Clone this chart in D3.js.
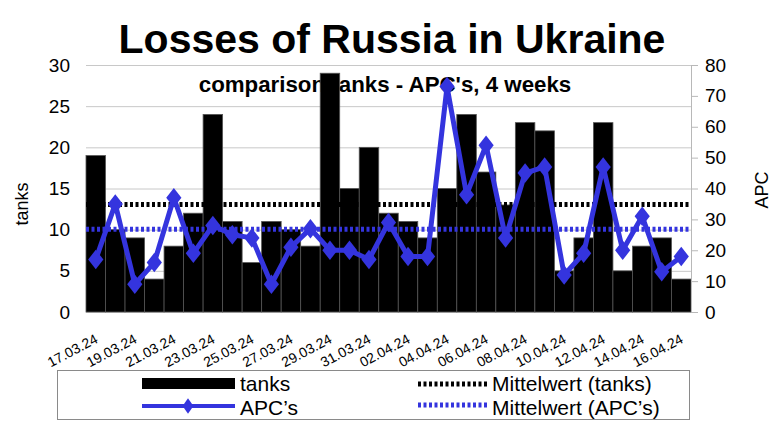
<!DOCTYPE html>
<html><head><meta charset="utf-8">
<script src="https://cdn.jsdelivr.net/npm/d3@7"></script>
<style>body{margin:0;background:#fff}svg{display:block;font-family:"Liberation Sans",Arial,sans-serif}</style>
</head><body><svg id="c" width="775" height="427"></svg>
<script>
const dates = ["17.03.24","18.03.24","19.03.24","20.03.24","21.03.24","22.03.24","23.03.24","24.03.24","25.03.24","26.03.24","27.03.24","28.03.24","29.03.24","30.03.24","31.03.24","01.04.24","02.04.24","03.04.24","04.04.24","05.04.24","06.04.24","07.04.24","08.04.24","09.04.24","10.04.24","11.04.24","12.04.24","13.04.24","14.04.24","15.04.24","16.04.24"];
const tanks = [19,10,9,4,8,12,24,11,6,11,10,8,29,15,20,12,11,9,15,24,17,13,23,22,5,9,23,5,8,9,4];
const apcs = [17,35,9,16,37,19,28,25,24,9,21,27,20,20,17,29,18,18,73,38,54,24,45,47,12,19,47,20,31,13,18];
const tankTicks = [0,5,10,15,20,25,30];
const apcTicks = [0,10,20,30,40,50,60,70,80];
const xLabels = dates.filter((d,i)=>i%2===0);
const legendLabels = ["tanks","APC\u2019s","Mittelwert (tanks)","Mittelwert (APC\u2019s)"];

const blue = "#3434de";
const svg = d3.select("#c");
const L=86, R=691, T=65, B=312;
const x = d3.scaleBand().domain(dates).range([L,R]).padding(0);
const yT = d3.scaleLinear().domain([0,30]).range([B,T]);
const yA = d3.scaleLinear().domain([0,80]).range([B,T]);
const meanT = d3.mean(tanks), meanA = d3.mean(apcs);

// title
svg.append("text").attr("x",392).attr("y",53).attr("text-anchor","middle")
  .attr("font-size",41).attr("font-weight","bold").text("Losses of Russia in Ukraine");

// gridlines
const gl = d3.axisLeft(yT).tickValues(tankTicks).tickSize(-(R-L)).tickFormat("");
svg.append("g").attr("transform",`translate(${L},0)`).call(gl)
  .call(g=>g.select(".domain").remove())
  .call(g=>g.selectAll("line").attr("stroke","#c8c8c8"));

// subtitle (behind bars)
svg.append("text").attr("x",385).attr("y",92).attr("text-anchor","middle")
  .attr("font-size",22.3).attr("font-weight","bold").text("comparison tanks - APC's, 4 weeks");

// bars
svg.append("g").selectAll("rect").data(tanks).join("rect")
  .attr("x",(d,i)=>x(dates[i])).attr("width",x.bandwidth())
  .attr("y",d=>yT(d)).attr("height",d=>B-yT(d))
  .attr("fill","#000").attr("stroke","#555").attr("stroke-width",0.8);

// mean lines
svg.append("line").attr("x1",L).attr("x2",R).attr("y1",yT(meanT)).attr("y2",yT(meanT))
  .attr("stroke","#000").attr("stroke-width",5).attr("stroke-dasharray","3,2.5");
svg.append("line").attr("x1",L).attr("x2",R).attr("y1",yA(meanA)).attr("y2",yA(meanA))
  .attr("stroke",blue).attr("stroke-width",5).attr("stroke-dasharray","3,2.5");

// APC line
const cx = i => x(dates[i]) + x.bandwidth()/2;
svg.append("path").datum(apcs)
  .attr("d", d3.line().x((d,i)=>cx(i)).y(d=>yA(d)))
  .attr("fill","none").attr("stroke",blue).attr("stroke-width",5).attr("stroke-linejoin","round");
const diamond = d3.symbol().type(d3.symbolDiamond).size(110);
svg.append("g").selectAll("path").data(apcs).join("path")
  .attr("transform",(d,i)=>`translate(${cx(i)},${yA(d)}) scale(1.35,1)`)
  .attr("d",diamond).attr("fill",blue);

// left axis labels
const ax = d3.axisLeft(yT).tickValues(tankTicks).tickSize(0).tickPadding(16);
svg.append("g").attr("transform",`translate(${L},0)`).call(ax)
  .call(g=>g.select(".domain").remove())
  .call(g=>g.selectAll("text").attr("font-size",19).attr("font-family","Liberation Sans, Arial, sans-serif").attr("fill","#000"));

// right axis
const ar = d3.axisRight(yA).tickValues(apcTicks).tickSize(7).tickPadding(7).tickSizeOuter(0);
svg.append("g").attr("transform",`translate(${R},0)`).call(ar)
  .call(g=>g.select(".domain").attr("stroke","#b8b8b8"))
  .call(g=>g.selectAll("line").attr("stroke","#b8b8b8"))
  .call(g=>g.selectAll("text").attr("font-size",19).attr("font-family","Liberation Sans, Arial, sans-serif").attr("fill","#000"));

// x labels
svg.append("g").selectAll("text").data(xLabels).join("text")
  .attr("transform",d=>`translate(${x(d)+x.bandwidth()/2+3},${342}) rotate(-28)`)
  .attr("text-anchor","end").attr("font-size",14).text(d=>d);

// axis titles
svg.append("text").attr("transform","translate(28,204) rotate(-90)").attr("text-anchor","middle")
  .attr("font-size",18).text("tanks");
svg.append("text").attr("transform","translate(768,190) rotate(-90)").attr("text-anchor","middle")
  .attr("font-size",18).text("APC");

// legend
svg.append("rect").attr("x",57.5).attr("y",370.5).attr("width",632).attr("height",49)
  .attr("fill","#fff").attr("stroke","#8a8a8a");
svg.append("rect").attr("x",142).attr("y",378).attr("width",93).attr("height",11).attr("fill","#000");
svg.append("line").attr("x1",142).attr("x2",235).attr("y1",406).attr("y2",406).attr("stroke",blue).attr("stroke-width",4);
svg.append("path").attr("transform","translate(188,406) scale(1.2,1)").attr("d",d3.symbol().type(d3.symbolDiamond).size(70)).attr("fill",blue);
svg.append("line").attr("x1",418).attr("x2",487).attr("y1",384).attr("y2",384).attr("stroke","#000").attr("stroke-width",5).attr("stroke-dasharray","3,2.5");
svg.append("line").attr("x1",418).attr("x2",487).attr("y1",405).attr("y2",405).attr("stroke",blue).attr("stroke-width",5).attr("stroke-dasharray","3,2.5");
const lp = [[240,391],[240,415],[492,391],[492,415]];
svg.append("g").selectAll("text").data(legendLabels).join("text")
  .attr("x",(d,i)=>lp[i][0]).attr("y",(d,i)=>lp[i][1]).attr("font-size",21).text(d=>d);
</script></body></html>
